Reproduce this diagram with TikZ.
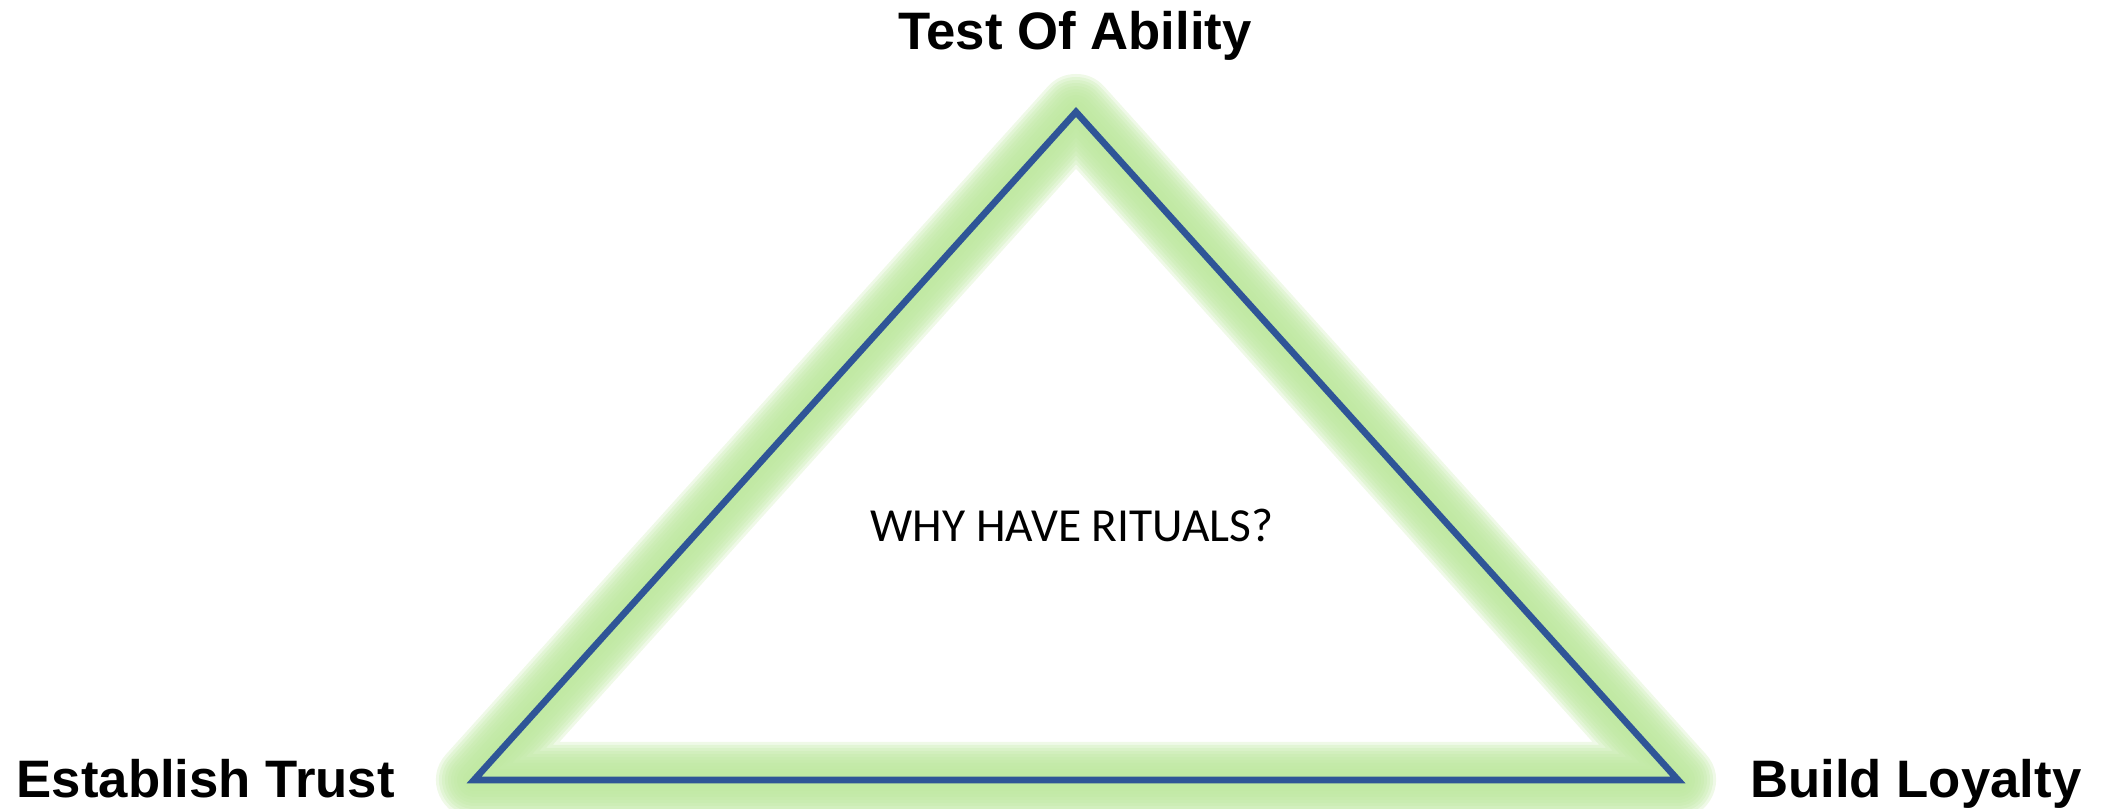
\documentclass[tikz,border=0pt]{standalone}
\usepackage{fontspec}
\setmainfont{Liberation Sans}
\newfontfamily\bodyfont{Carlito}
\usepackage{tikz}
\usetikzlibrary{positioning}
\definecolor{ritualblue}{RGB}{47,85,151}
\definecolor{ritualglow}{RGB}{190,232,160}

\begin{document}
\begin{tikzpicture}
    \useasboundingbox (0,0) rectangle (21.08,8.09);
    \tikzset{corner/.style={font=\fontsize{15}{18}\selectfont\bfseries, inner sep=0pt}}

    % Corners of the triangle
    \coordinate (apex) at (10.76,6.97);
    \coordinate (baseL) at (4.74,0.29);
    \coordinate (baseR) at (16.78,0.29);

    % Soft green glow
    \foreach \w in {0.16,0.22,...,0.76}
        \draw[ritualglow, opacity=0.25, line width=\w cm, line join=round] (apex) -- (baseL) -- (baseR) -- cycle;

    % Triangle outline
    \draw[ritualblue, line width=1.9pt] (apex) -- (baseL) -- (baseR) -- cycle;

    % Labels
    \node[corner, anchor=base] (ability) at (10.75,7.59) {Test Of Ability};
    \node[corner, anchor=base west] (trust) at (0.16,0.11) {Establish Trust};
    \node[corner, anchor=base east] (loyalty) at (20.82,0.11) {Build Loyalty};
    \node[anchor=base, inner sep=0pt, font=\bodyfont\fontsize{13.5}{16}\selectfont] (question) at (10.72,2.67) {WHY HAVE RITUALS?};
\end{tikzpicture}
\end{document}
